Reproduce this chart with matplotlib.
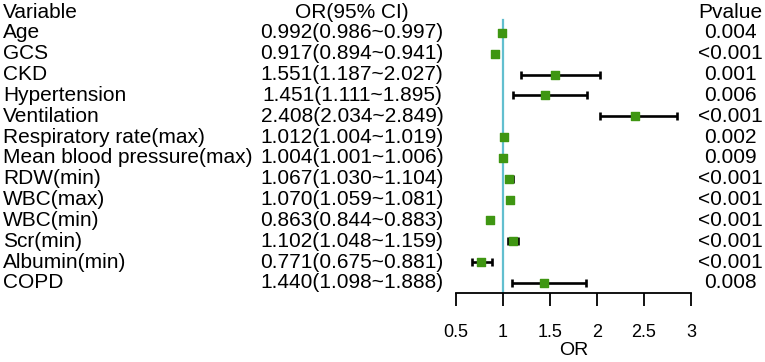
import matplotlib.pyplot as plt
import matplotlib.transforms as mtransforms

plt.rcParams['font.family'] = ['Liberation Sans', 'DejaVu Sans']

variables = ['Age', 'GCS', 'CKD', 'Hypertension', 'Ventilation', 'Respiratory rate(max)',
             'Mean blood pressure(max)', 'RDW(min)', 'WBC(max)', 'WBC(min)', 'Scr(min)',
             'Albumin(min)', 'COPD']
odds = [0.992, 0.917, 1.551, 1.451, 2.408, 1.012, 1.004, 1.067, 1.070, 0.863, 1.102, 0.771, 1.440]
lower = [0.986, 0.894, 1.187, 1.111, 2.034, 1.004, 1.001, 1.030, 1.059, 0.844, 1.048, 0.675, 1.098]
upper = [0.997, 0.941, 2.027, 1.895, 2.849, 1.019, 1.006, 1.104, 1.081, 0.883, 1.159, 0.881, 1.888]
pvalues = ['0.004', '<0.001', '0.001', '0.006', '<0.001', '0.002', '0.009', '<0.001',
           '<0.001', '<0.001', '<0.001', '<0.001', '0.008']
xticks = [0.5, 1, 1.5, 2, 2.5, 3]

fig = plt.figure(figsize=(7.65, 3.62), dpi=100)
ax = fig.add_axes([456 / 765, 1 - 293 / 362, 235 / 765, 281 / 362])

rows = list(range(1, len(variables) + 1))
# reference line at OR = 1
ax.plot([1, 1], [0.38, 13.48], color='#62bfcf', lw=1.6, zorder=1)
for r, o, lo, hi in zip(rows, odds, lower, upper):
    ax.errorbar(o, r, xerr=[[o - lo], [hi - o]], fmt='none', ecolor='black',
                elinewidth=1.9, capsize=3.2, capthick=1.9, zorder=2)
ax.scatter(odds, rows, marker='s', s=28, color='#3f9612', zorder=3)

ax.set_xlim(0.5, 3)
ax.set_ylim(13.48, 0)
for s in ['top', 'left', 'right']:
    ax.spines[s].set_visible(False)
ax.spines['bottom'].set_linewidth(1.3)
ax.set_yticks([])
ax.set_xticks(xticks)
ax.set_xticklabels(['0.5', '1', '1.5', '2', '2.5', '3'])
ax.tick_params(axis='x', direction='out', length=9, width=1.3, pad=13, labelsize=13)
ax.set_xlabel('OR', fontsize=14, labelpad=1)

trans = mtransforms.blended_transform_factory(fig.transFigure, ax.transData)
fs = 15
ax.text(0.004, 0, 'Variable', transform=trans, ha='left', va='center', fontsize=fs)
ax.text(0.460, 0, 'OR(95% CI)', transform=trans, ha='center', va='center', fontsize=fs)
ax.text(0.955, 0, 'Pvalue', transform=trans, ha='center', va='center', fontsize=fs)
for r, v, o, lo, hi, p in zip(rows, variables, odds, lower, upper, pvalues):
    ax.text(0.004, r, v, transform=trans, ha='left', va='center', fontsize=fs)
    ax.text(0.460, r, f'{o:.3f}({lo:.3f}~{hi:.3f})', transform=trans,
            ha='center', va='center', fontsize=fs)
    ax.text(0.955, r, p, transform=trans, ha='center', va='center', fontsize=fs)

fig.savefig('out.png', dpi=100)
